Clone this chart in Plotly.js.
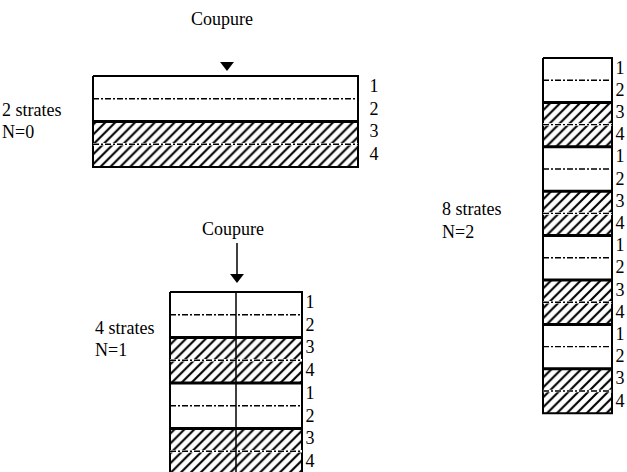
<!DOCTYPE html>
<html>
<head>
<meta charset="utf-8">
<script src="https://cdn.plot.ly/plotly-3.0.1.min.js"></script>
<style>html,body{margin:0;padding:0;background:#fff}#chart{width:627px;height:472px}</style>
</head>
<body>
<div id="chart"></div>
<script>
// ---- data ----
const diagramNames = ['N=0', 'N=1', 'N=2'];
const strateLabels = ['2 strates', '4 strates', '8 strates'];
const strateCounts = [2, 4, 8];
const columnCounts = [1, 2, 1];
const layerLabels = ['1', '2', '3', '4'];
const cutLabel = 'Coupure';
const showCut = [true, true, false];

// ---- layout geometry (pixel space) ----
const geo = [
  {x0: 93, x1: 358, top: 76, h: 45.5, labX: 374, txtX: 2, txtY: [111, 133], cutX: 227, cutTextX: 222, cutTextY: 20, arrowTop: null, arrowTip: 70},
  {x0: 170, x1: 302, top: 292, h: 45.5, labX: 310, txtX: 95, txtY: [329, 351], cutX: 237, cutTextX: 233, cutTextY: 230, arrowTop: 243, arrowTip: 282},
  {x0: 543, x1: 612, top: 58, h: 44.4, labX: 620, txtX: 442, txtY: [210, 233], cutX: null}
];
const FONT = {family: 'Liberation Serif, Times New Roman, serif', size: 18, color: '#000'};

const traces = [];
const dashX = [], dashY = [], gapX = [], gapY = [], thickX = [], thickY = [], divX = [], divY = [];
const labX = [], labY = [], labT = [];

diagramNames.forEach((name, d) => {
  const g = geo[d];
  const n = strateCounts[d];
  for (let i = 0; i < n; i++) {
    const y0 = g.top + i * g.h, y1 = y0 + g.h;
    const hatched = i % 2 === 1;
    const t = {
      type: 'scatter', mode: 'lines',
      x: [g.x0, g.x1, g.x1, g.x0, g.x0],
      y: [y0, y0, y1, y1, y0],
      fill: 'toself', line: {width: 0, color: 'rgba(0,0,0,0)'},
      fillcolor: '#fff', hoverinfo: 'skip'
    };
    if (hatched) t.fillpattern = {shape: '/', fgcolor: '#000', bgcolor: '#fff', size: 7, solidity: 0.3};
    traces.push(t);
    const ym = y0 + g.h / 2;
    dashX.push(g.x0, g.x1, null); dashY.push(ym, ym, null);
    if (hatched) { gapX.push(g.x0, g.x1, null); gapY.push(ym, ym, null); }
    if (i > 0) { thickX.push(g.x0, g.x1, null); thickY.push(y0, y0, null); }
    for (let k = 0; k < 2; k++) {
      labX.push(g.labX);
      labY.push(y0 + g.h / 4 + k * g.h / 2);
      labT.push(layerLabels[(i % 2) * 2 + k]);
    }
  }
  const yb = g.top + n * g.h;
  if (columnCounts[d] > 1) {
    const xm = (g.x0 + g.x1) / 2;
    divX.push(xm, xm, null); divY.push(g.top, yb, null);
  }
  traces.push({type: 'scatter', mode: 'lines', x: [g.x0, g.x1, g.x1, g.x0, g.x0], y: [g.top, g.top, yb, yb, g.top],
    line: {color: '#000', width: 2}, hoverinfo: 'skip'});
  traces.push({type: 'scatter', mode: 'text', x: [g.txtX], y: [g.txtY[0]], text: [strateLabels[d]],
    textposition: 'middle right', textfont: FONT, hoverinfo: 'skip'});
  traces.push({type: 'scatter', mode: 'text', x: [g.txtX], y: [g.txtY[1]], text: [name],
    textposition: 'middle right', textfont: FONT, hoverinfo: 'skip'});
  if (showCut[d]) {
    traces.push({type: 'scatter', mode: 'text', x: [g.cutTextX], y: [g.cutTextY], text: [cutLabel],
      textposition: 'middle center', textfont: FONT, hoverinfo: 'skip'});
    if (g.arrowTop !== null) {
      traces.push({type: 'scatter', mode: 'lines', x: [g.cutX, g.cutX], y: [g.arrowTop, g.arrowTip - 8],
        line: {color: '#000', width: 1.5}, hoverinfo: 'skip'});
    }
    traces.push({type: 'scatter', mode: 'markers', x: [g.cutX], y: [g.arrowTip - 5],
      marker: {symbol: 'triangle-down', size: 12, color: '#000'}, hoverinfo: 'skip'});
  }
});

traces.push({type: 'scatter', mode: 'lines', x: gapX, y: gapY, connectgaps: false,
  line: {color: '#fff', width: 2.5}, hoverinfo: 'skip'});
traces.push({type: 'scatter', mode: 'lines', x: dashX, y: dashY, connectgaps: false,
  line: {color: '#000', width: 1.4, dash: '6px,2px,2px,2px'}, hoverinfo: 'skip'});
traces.push({type: 'scatter', mode: 'lines', x: thickX, y: thickY, connectgaps: false,
  line: {color: '#000', width: 3}, hoverinfo: 'skip'});
traces.push({type: 'scatter', mode: 'lines', x: divX, y: divY, connectgaps: false,
  line: {color: '#000', width: 1.5}, hoverinfo: 'skip'});
traces.push({type: 'scatter', mode: 'text', x: labX, y: labY, text: labT,
  textposition: 'middle center', textfont: FONT, hoverinfo: 'skip', cliponaxis: false});

const layout = {
  width: 627, height: 472,
  margin: {l: 0, r: 0, t: 0, b: 0},
  paper_bgcolor: '#fff', plot_bgcolor: '#fff',
  showlegend: false,
  xaxis: {range: [0, 627], visible: false, fixedrange: true},
  yaxis: {range: [472, 0], visible: false, fixedrange: true}
};
Plotly.newPlot('chart', traces, layout, {displayModeBar: false, staticPlot: true});
</script>
</body>
</html>
